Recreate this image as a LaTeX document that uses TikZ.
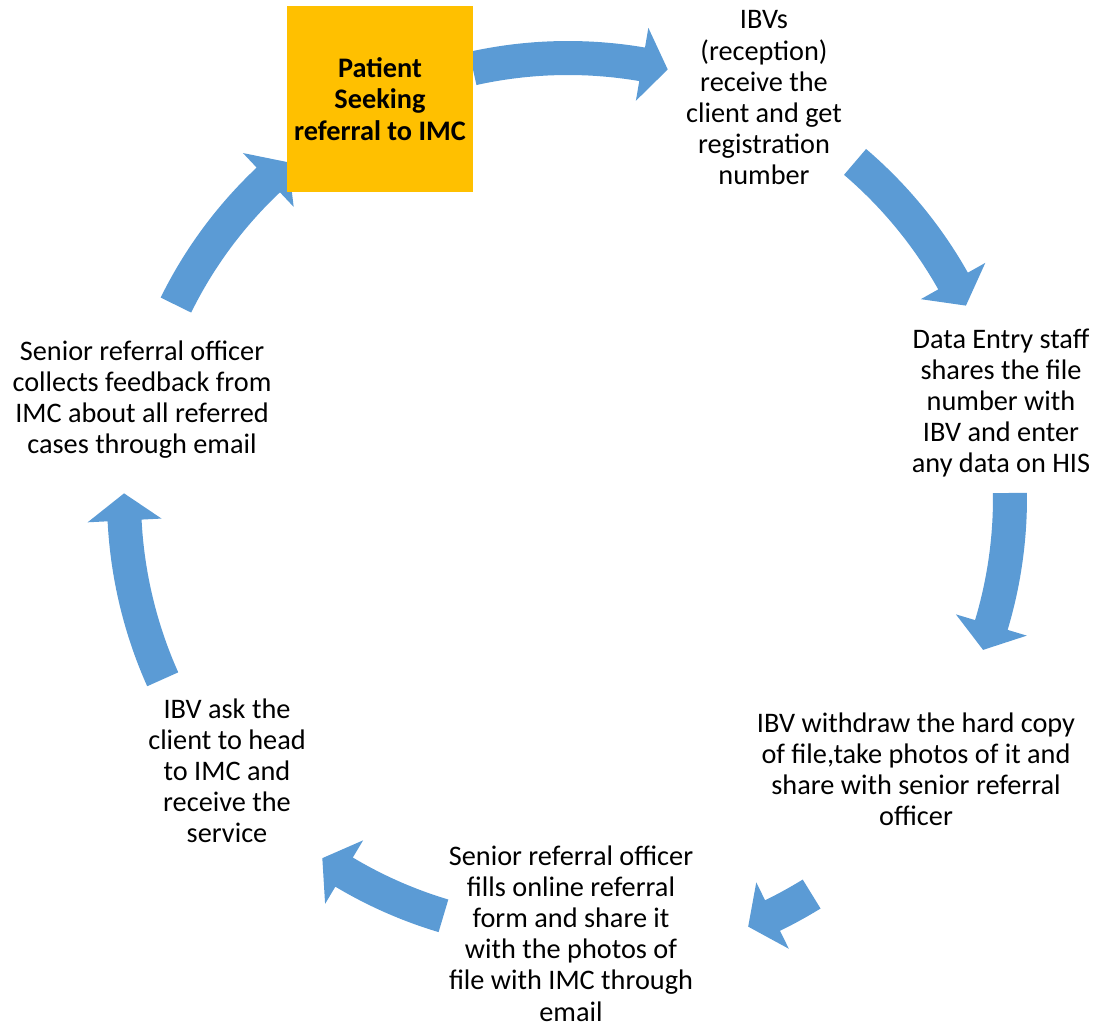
\documentclass[tikz,border=0pt]{standalone}
\usepackage{fontspec}
\setmainfont{Carlito}
\usetikzlibrary{calc}
\definecolor{arrowblue}{HTML}{5B9BD5}
\definecolor{boxyellow}{HTML}{FFC000}
\newcommand\cycarrow[4]{%
  \pgfmathsetmacro\arRo{#1+17}\pgfmathsetmacro\arRi{#1-17}%
  \pgfmathsetmacro\arHo{#1+37}\pgfmathsetmacro\arHi{#1-37}%
  \fill[arrowfill] ($(O)+(#2:\arRo pt)$) arc[start angle=#2,end angle=#3,radius=\arRo pt]
    -- ($(O)+(#3:\arHo pt)$) -- ($(O)+(#4:#1pt)$) -- ($(O)+(#3:\arHi pt)$)
    -- ($(O)+(#3:\arRi pt)$) arc[start angle=#3,end angle=#2,radius=\arRi pt] -- cycle;}
\tikzset{
  arrowfill/.style={fill=arrowblue},
  steptext/.style={align=center,inner sep=0pt,anchor=base,font=\fontsize{28.3}{31.2}\selectfont},
  startbox/.style={fill=boxyellow,minimum width=186pt,minimum height=186pt,inner sep=0pt,align=center,font=\fontsize{28.3}{31.2}\selectfont\bfseries}
}
\begin{document}
\begin{tikzpicture}[x=1pt,y=1pt]
\useasboundingbox (0,0) rectangle (1098,1026);
\coordinate (O) at (568,528);
\cycarrow{440}{102.5}{80.3}{76.9}
\cycarrow{442}{49.5}{29.4}{25.8}
\cycarrow{442}{0.65}{-16.7}{-20.1}
\cycarrow{465}{-58.4}{-63.9}{-67.2}
\cycarrow{436}{-106.6}{-120.9}{-124.3}
\cycarrow{444}{204.1}{182.9}{179.4}
\cycarrow{437}{153.8}{133.3}{129.8}
\node[startbox] (s1) at (380,927) {Patient\\Seeking\\referral to IMC};
\node[steptext] (s2) at (764,841) {IBVs\\(reception)\\receive the\\client and get\\registration\\number};
\node[steptext] (s3) at (1001,553) {Data Entry staff\\shares the file\\number with\\IBV and enter\\any data on HIS};
\node[steptext] (s4) at (916,200) {IBV withdraw the hard copy\\of file,take photos of it and\\share with senior referral\\officer};
\node[steptext] (s5) at (571,5) {Senior referral officer\\fills online referral\\form and share it\\with the photos of\\file with IMC through\\email};
\node[steptext] (s6) at (227,183) {IBV ask the\\client to head\\to IMC and\\receive the\\service};
\node[steptext] (s7) at (142,572) {Senior referral officer\\collects feedback from\\IMC about all referred\\cases through email};
\end{tikzpicture}
\end{document}
